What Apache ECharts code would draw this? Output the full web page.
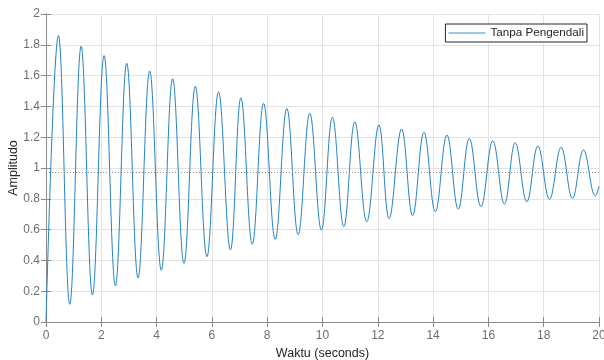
<!DOCTYPE html>
<html>
<head>
<meta charset="utf-8">
<script src="https://cdn.jsdelivr.net/npm/echarts@6/dist/echarts.min.js"></script>
<style>
  html, body { margin: 0; padding: 0; background: #fff; }
  #chart { width: 604px; height: 360px; }
</style>
</head>
<body>
<div id="chart"></div>
<script>
// puncak dan lembah respon step
var peakTimes = [0.45, 1.27, 2.10, 2.92, 3.75, 4.58, 5.40, 6.24, 7.05, 7.87, 8.71, 9.54,
  10.36, 11.17, 12.04, 12.86, 13.67, 14.50, 15.31, 16.16, 16.97, 17.79, 18.63, 19.44];
var peakValues = [1.86, 1.79, 1.73, 1.68, 1.63, 1.58, 1.53, 1.495, 1.456, 1.42, 1.387, 1.355,
  1.33, 1.30, 1.28, 1.253, 1.232, 1.214, 1.193, 1.177, 1.164, 1.143, 1.134, 1.117];
var troughTimes = [0.86, 1.68, 2.51, 3.33, 4.17, 4.99, 5.82, 6.67, 7.46, 8.29, 9.12, 9.96,
  10.77, 11.60, 12.41, 13.26, 14.08, 14.91, 15.73, 16.58, 17.39, 18.21, 19.04, 19.87];
var troughValues = [0.115, 0.175, 0.234, 0.286, 0.336, 0.381, 0.424, 0.468, 0.505, 0.536, 0.567, 0.597,
  0.619, 0.651, 0.671, 0.69, 0.716, 0.732, 0.749, 0.766, 0.781, 0.797, 0.803, 0.818];
var startPoint = [0, 0];
var endPoint = [20, 0.88];
var steadyValue = 0.97;

var xTicks = { min: 0, max: 20, interval: 2 };
var yTicks = { min: 0, max: 2, interval: 0.2 };

// gabungkan puncak dan lembah secara bergantian
var response = [startPoint];
for (var i = 0; i < peakTimes.length; i++) {
  response.push([peakTimes[i], peakValues[i]]);
  response.push([troughTimes[i], troughValues[i]]);
}
response.push(endPoint);

var axisGray = '#8c8c8c';
var labelGray = '#6e6e6e';
var gridGray = '#e3e3e3';

var chart = echarts.init(document.getElementById('chart'));
chart.setOption({
  animation: false,
  grid: { left: 46, right: 5, top: 14, bottom: 38, outerBoundsMode: 'none', containLabel: false },
  legend: {
    data: [{ name: 'Tanpa Pengendali', icon: 'rect' }],
    right: 17,
    top: 24,
    orient: 'vertical',
    backgroundColor: '#fff',
    borderColor: '#262626',
    borderWidth: 1,
    borderRadius: 0,
    padding: [3, 3, 3, 3],
    itemWidth: 37,
    itemHeight: 1.5,
    itemGap: 4,
    itemStyle: { color: '#7db4e0' },
    textStyle: { color: '#262626', fontSize: 11.7, fontFamily: 'Liberation Sans' }
  },
  xAxis: [
    {
      type: 'value',
      min: xTicks.min, max: xTicks.max, interval: xTicks.interval,
      name: 'Waktu (seconds)',
      nameLocation: 'middle',
      nameGap: 25,
      nameTextStyle: { color: '#262626', fontSize: 12.5, fontFamily: 'Liberation Sans' },
      axisLine: { show: true, lineStyle: { color: axisGray } },
      axisTick: { show: true, inside: true, length: 5, lineStyle: { color: axisGray } },
      axisLabel: { color: labelGray, fontSize: 12, margin: 8, fontFamily: 'Liberation Sans' },
      splitLine: { show: true, lineStyle: { color: gridGray } }
    },
    {
      type: 'value',
      position: 'top',
      min: xTicks.min, max: xTicks.max, interval: xTicks.interval,
      axisLine: { show: true, lineStyle: { color: axisGray } },
      axisTick: { show: true, inside: true, length: 5, lineStyle: { color: axisGray } },
      axisLabel: { show: false },
      splitLine: { show: false }
    }
  ],
  yAxis: [
    {
      type: 'value',
      min: yTicks.min, max: yTicks.max, interval: yTicks.interval,
      name: 'Amplitudo',
      nameLocation: 'middle',
      nameGap: 26,
      nameMoveOverlap: false,
      nameTextStyle: { color: '#262626', fontSize: 12.5, fontFamily: 'Liberation Sans' },
      axisLine: { show: true, lineStyle: { color: axisGray } },
      axisTick: { show: true, inside: true, length: 5, lineStyle: { color: axisGray } },
      axisLabel: { color: labelGray, fontSize: 12, margin: 6, fontFamily: 'Liberation Sans' },
      splitLine: { show: true, lineStyle: { color: gridGray } }
    },
    {
      type: 'value',
      position: 'right',
      min: yTicks.min, max: yTicks.max, interval: yTicks.interval,
      axisLine: { show: true, lineStyle: { color: axisGray } },
      axisTick: { show: true, inside: true, length: 5, lineStyle: { color: axisGray } },
      axisLabel: { show: false },
      splitLine: { show: false }
    }
  ],
  series: [
    {
      name: 'Tanpa Pengendali',
      type: 'line',
      xAxisIndex: 0,
      yAxisIndex: 0,
      data: response,
      symbol: 'none',
      smooth: 0.4,
      lineStyle: { color: '#2383c6', width: 1 },
      itemStyle: { color: '#2383c6' },
      markLine: {
        silent: true,
        symbol: 'none',
        label: { show: false },
        lineStyle: { color: '#8a8a8a', type: [1, 2], width: 1 },
        data: [{ yAxis: steadyValue }]
      }
    }
  ]
});
</script>
</body>
</html>
